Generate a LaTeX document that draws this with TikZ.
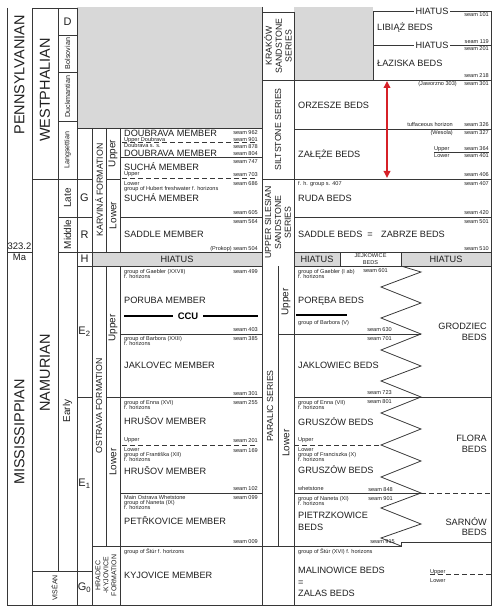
\documentclass[tikz,border=0pt]{standalone}
\usepackage{fontspec}
\setmainfont{Liberation Sans}
\usetikzlibrary{arrows.meta}
\definecolor{grayfill}{RGB}{216,216,216}
\definecolor{linec}{RGB}{55,55,55}
\definecolor{txt}{RGB}{30,30,30}
\definecolor{redarr}{RGB}{214,32,39}
\newcommand\fsm{\fontsize{5.6}{6.2}\selectfont}
\newcommand\fbg{\fontsize{9.2}{10}\selectfont}
\newcommand\fhuge{\fontsize{14.5}{16}\selectfont}
\newcommand\fmid{\fontsize{10}{11}\selectfont}
\newcommand\fser{\fontsize{8.8}{10}\selectfont}
\newcommand\ftiny{\fontsize{7.2}{8}\selectfont}
\tikzset{
 ln/.style={draw=linec, line width=0.8bp},
 dsh/.style={draw=linec, line width=0.8bp, dash pattern=on 5bp off 3bp},
 sL/.style={font=\fsm, text=txt, inner sep=0pt, anchor=base west, yshift=-2bp},
 sR/.style={font=\fsm, text=txt, inner sep=0pt, anchor=base east, yshift=-2bp},
 sC/.style={font=\fsm, text=txt, inner sep=0pt, anchor=base, yshift=-2bp},
 bL/.style={font=\fbg, text=txt, inner sep=0pt, anchor=base west, yshift=-3.3bp},
 bR/.style={font=\fbg, text=txt, inner sep=0pt, anchor=base east, yshift=-3.3bp},
 bC/.style={font=\fbg, text=txt, inner sep=0pt, anchor=base, yshift=-3.3bp},
 rt/.style={rotate=90, text=txt, inner sep=0pt, anchor=center, align=center},
 lt/.style={font=\fontsize{11}{12}\selectfont, text=txt, inner sep=0pt, anchor=center},
}
\begin{document}
\begin{tikzpicture}[x=1bp, y=-1bp]
\useasboundingbox (0,0) rectangle (500,611);
% gray fills
\fill[grayfill] (77,7) rectangle (262,128);
\fill[grayfill] (294,7) rectangle (373,80);
\fill[grayfill] (92,252) rectangle (262,266);
\fill[grayfill] (294,252) rectangle (340,266);
\fill[grayfill] (401,252) rectangle (491,266);
\fill[white] (262,12) rectangle (294,80);
% frame and grid
\draw[ln]
 (7,8) -- (7,605) -- (491,605) -- (491,11)
 (32,8) -- (32,605)
 (32,8) -- (77,8)
 (58,8) -- (58,571)
 (77,8) -- (77,605)
 (58,35) -- (77,35)
 (58,72) -- (77,72)
 (58,121) -- (77,121)
 (92,128) -- (92,605)
 (106,128) -- (106,252) (106,266) -- (106,546)
 (120,128) -- (120,252) (120,266) -- (120,605)
 (262,7) -- (262,605)
 (278,266) -- (278,546)
 (294,12) -- (294,605)
 (262,12) -- (294,12)
 (373,11) -- (373,80)
 (373,11) -- (491,11)
 (373,45) -- (491,45)
 (262,80) -- (491,80)
 (77,128) -- (262,128)
 (294,129) -- (491,129)
 (120,157) -- (262,157)
 (32,179) -- (92,179) (106,179) -- (120,179)
 (262,179) -- (491,179)
 (58,217) -- (92,217) (120,217) -- (262,217) (294,217) -- (491,217)
 (7,252) -- (32,252) (58,252) -- (262,252) (294,252) -- (491,252)
 (77,266) -- (262,266) (294,266) -- (491,266)
 (340,252) -- (340,266) (401,252) -- (401,266)
 (120,334) -- (262,334) (278,334) -- (421,334)
 (77,397) -- (92,397) (106,397) -- (262,397) (294,397) -- (491,397)
 (120,493) -- (262,493) (294,493) -- (421,493)
 (92,546) -- (401,546) -- (401,542) -- (491,542)
 (32,571) -- (92,571)
 (434,152) -- (489,152);
% zigzag
\draw[ln] (401,266) -- (421,272) -- (381,287) -- (421,303) -- (381,318) -- (421,334)
 -- (381,350) -- (421,366) -- (381,381) -- (421,397) -- (381,413) -- (421,429)
 -- (381,445) -- (421,461) -- (381,477) -- (421,493) -- (381,508) -- (421,524)
 -- (381,538) -- (401,546);
% dashed
\draw[dsh] (122,142.5) -- (257,142.5);
\draw[dsh] (122,178) -- (258,178);
\draw[dsh] (122,445) -- (258,445);
\draw[dsh] (294,445) -- (381,445);
\draw[dsh] (421,493) -- (491,493);
\draw[dsh] (430,574) -- (491,574);
% CCU thick lines
\draw[line width=2.6bp, draw=black] (124,316) -- (173,316) (203,316) -- (258,316);
\draw[line width=2.6bp, draw=black] (296,315) -- (347,315);
\node[font=\bfseries\fontsize{9.5}{10}\selectfont, text=black, inner sep=0pt] (ccu) at (188,316) {CCU};
% red arrow
\coordinate (arT) at (387,81);
\coordinate (arB) at (387,178);
\draw[draw=redarr, line width=1.8bp, {Triangle[length=7bp,width=6.5bp]}-{Triangle[length=7bp,width=6.5bp]}] (arT) -- (arB);

% ---- left columns
\node[rt, font=\fhuge] (penn) at (19.5,75) {PENNSYLVANIAN};
\node[font=\fontsize{9.5}{10}\selectfont, text=txt, inner sep=0pt] (age) at (19.5,246.5) {323.2};
\node[font=\fontsize{9.5}{10}\selectfont, text=txt, inner sep=0pt] (ma) at (19.5,257) {Ma};
\node[rt, font=\fhuge] (miss) at (19.5,432) {MISSISSIPPIAN};
\node[rt, font=\fhuge] (west) at (45,90) {WESTPHALIAN};
\node[rt, font=\fhuge] (namu) at (45,373) {NAMURIAN};
\node[rt, font=\fontsize{7}{8}\selectfont] (vise) at (54.5,588) {VISÉAN};
\node[lt] (dD) at (67.5,22) {D};
\node[rt, font=\ftiny] (bols) at (67.5,53.5) {Bolsovian};
\node[rt, font=\ftiny] (duck) at (67.5,96.5) {Duckmantian};
\node[rt, font=\ftiny] (lang) at (67.5,150) {Langsettian};
\node[rt, font=\fmid] (late) at (67.5,198) {Late};
\node[rt, font=\fmid] (midd) at (67.5,234.5) {Middle};
\node[rt, font=\fmid] (earl) at (67.5,411) {Early};
\node[lt] (gG) at (84.5,198) {G};
\node[lt] (gR) at (84.5,234.5) {R};
\node[lt] (gH) at (84.5,259) {H};
\node[lt] (gE2) at (84.5,332) {E\textsubscript{2}};
\node[lt] (gE1) at (84.5,484) {E\textsubscript{1}};
\node[lt] (gG0) at (84.5,588) {G\textsubscript{0}};
\node[rt, font=\fser] (karv) at (99,190) {KARVINÁ FORMATION};
\node[rt, font=\fmid] (kup) at (113,153.5) {Upper};
\node[rt, font=\fmid] (klo) at (113,215.5) {Lower};
\node[rt, font=\fser] (ostr) at (99,406) {OSTRAVA FORMATION};
\node[rt, font=\fmid] (oup) at (113,328) {Upper};
\node[rt, font=\fmid] (olo) at (113,462) {Lower};
\node[rt, font=\fontsize{7}{8}\selectfont] (hrad) at (106,575.5) {HRADEC\\-KYJOVICE\\FORMATION};

% ---- Karvina members
\node[bL] (k1) at (124,133) {DOUBRAVA MEMBER};
\node[sR] (k2) at (258,133) {seam 962};
\node[sL] (k3) at (124,140) {Upper Doubrava};
\node[sR] (k4) at (258,139.5) {seam 901};
\node[sL, text depth=0pt] (k5) at (124,146) {Doubrava s. s.};
\node[sR] (k6) at (258,147) {seam 878};
\node[bL, text height=6.7bp, text depth=0pt] (k7) at (124,153) {DOUBRAVA MEMBER};
\node[sR] (k8) at (258,153.5) {seam 804};
\node[bL] (k9) at (124,167.5) {SUCHÁ MEMBER};
\node[sR] (k10) at (258,162) {seam 747};
\node[sL] (k11) at (124,174) {Upper};
\node[sR] (k12) at (258,175) {seam 703};
\node[sL] (k13) at (124,183) {Lower};
\node[sR] (k14) at (258,183.5) {seam 686};
\node[sL] (k15) at (124,188) {group of Hubert freshwater f. horizons};
\node[bL] (k16) at (124,198) {SUCHÁ MEMBER};
\node[sR] (k17) at (258,212) {seam 605};
\node[sR] (k18) at (258,221) {seam 564};
\node[bL] (k19) at (124,234) {SADDLE MEMBER};
\node[sR] (k20) at (258,248) {(Prokop) seam 504};
\node[bC] (hi1) at (177,259) {HIATUS};

% ---- Ostrava members
\node[sL] (o1) at (124,271) {group of Gaebler (XXVII)};
\node[sL] (o2) at (124,276.5) {f. horizons};
\node[sR] (o3) at (258,271) {seam 499};
\node[bL] (o4) at (124,300) {PORUBA MEMBER};
\node[sR] (o5) at (258,329) {seam 403};
\node[sL] (o6) at (124,338) {group of Barbora (XXII)};
\node[sL] (o7) at (124,343) {f. horizons};
\node[sR] (o8) at (258,338) {seam 385};
\node[bL] (o9) at (124,365) {JAKLOVEC MEMBER};
\node[sR] (o10) at (258,393) {seam 301};
\node[sL] (o11) at (124,402) {group of Enna (XVI)};
\node[sL] (o12) at (124,407) {f. horizons};
\node[sR] (o13) at (258,402) {seam 255};
\node[bL] (o14) at (124,421) {HRUŠOV MEMBER};
\node[sL] (o15) at (124,439) {Upper};
\node[sR] (o16) at (258,440) {seam 201};
\node[sL] (o17) at (124,449) {Lower};
\node[sL] (o18) at (124,454) {group of Františka (XII)};
\node[sL] (o19) at (124,459) {f. horizons};
\node[sR] (o20) at (258,450) {seam 169};
\node[bL] (o21) at (124,471) {HRUŠOV MEMBER};
\node[sR] (o22) at (258,488) {seam 102};
\node[sL] (o23) at (124,497) {Main Ostrava Whetstone};
\node[sL] (o24) at (124,502) {group of Naneta (IX)};
\node[sL] (o25) at (124,507) {f. horizons};
\node[sR] (o26) at (258,497) {seam 099};
\node[bL] (o27) at (124,521) {PETŘKOVICE MEMBER};
\node[sR] (o28) at (258,541) {seam 009};
\node[sL] (o29) at (124,551) {group of Štúr f. horizons};
\node[bL] (o30) at (124,575) {KYJOVICE MEMBER};

% ---- series column
\node[rt, font=\fser] (krak) at (278,46) {KRAKÓW\\SANDSTONE\\SERIES};
\node[rt, font=\fser] (silt) at (278,129.5) {SILTSTONE SERIES};
\node[rt, font=\fser] (usss) at (278,222.5) {UPPER SILESIAN\\SANDSTONE\\SERIES};
\node[rt, font=\fser] (para) at (270,406) {PARALIC SERIES};
\node[rt, font=\fmid] (pup) at (286,302) {Upper};
\node[rt, font=\fmid] (plo) at (286,443) {Lower};

% ---- upper right
\node[bC, fill=white, inner xsep=2bp] (hi2) at (432,11) {HIATUS};
\node[sR] (r1) at (489,15) {seam 101};
\node[bL] (r2) at (377,27) {LIBIĄŻ BEDS};
\node[bC, fill=white, inner xsep=2bp] (hi3) at (432,45) {HIATUS};
\node[sR] (r3) at (489,41.5) {seam 119};
\node[sR] (r4) at (489,49) {seam 201};
\node[bL] (r5) at (377,63) {ŁAZISKA BEDS};
\node[sR] (r6) at (489,76) {seam 218};
\node[sR] (r7) at (457,84) {(Jaworzno 303)};
\node[sR] (r8) at (489,84) {seam 301};
\node[bL] (r9) at (298,105) {ORZESZE BEDS};
\node[sR] (r10) at (453,125) {tuffaceous horizon};
\node[sR] (r11) at (489,125) {seam 326};
\node[sR] (r12) at (453,133) {(Wesola)};
\node[sR] (r13) at (489,133) {seam 327};
\node[bL] (r14) at (298,154) {ZAŁĘŻE BEDS};
\node[sL] (r15) at (434,149) {Upper};
\node[sR] (r16) at (489,149) {seam 364};
\node[sL] (r17) at (434,155.5) {Lower};
\node[sR] (r18) at (489,156) {seam 401};
\node[sR] (r19) at (489,175) {seam 406};
\node[sL] (r20) at (298,183) {f. h. group s. 407};
\node[sR] (r21) at (489,183) {seam 407};
\node[bL] (r22) at (298,198) {RUDA BEDS};
\node[sR] (r23) at (489,212) {seam 420};
\node[sR] (r24) at (489,221) {seam 501};
\node[bL] (r25) at (298,234) {SADDLE BEDS};
\node[bC] (r26) at (370,234) {=};
\node[bL] (r27) at (381,234) {ZABRZE BEDS};
\node[sR] (r28) at (489,248) {seam 510};
\node[bC] (hi4) at (317,259) {HIATUS};
\node[font=\fsm, text=txt, inner sep=0pt, align=center] (jejk) at (370.5,259) {JEJKOWICE\\BEDS};
\node[bC] (hi5) at (446,259) {HIATUS};

% ---- paralic right
\node[sL] (p1) at (298,271) {group of Gaebler (I ab)};
\node[sL] (p2) at (298,276.5) {f. horizons};
\node[sR] (p3) at (388,270.5) {seam 601};
\node[bL] (p4) at (298,300) {PORĘBA BEDS};
\node[sL] (p5) at (298,322) {group of Barbora (V)};
\node[sR] (p6) at (392,329) {seam 630};
\node[sR] (p7) at (392,338.5) {seam 701};
\node[bL] (p8) at (298,365) {JAKLOWIEC BEDS};
\node[sR] (p9) at (392,392) {seam 723};
\node[sR] (p10) at (392,401.5) {seam 801};
\node[sL] (p11) at (298,402) {group of Enna (VII)};
\node[sL] (p12) at (298,407) {f. horizons};
\node[bL] (p13) at (298,422) {GRUSZÓW BEDS};
\node[sL] (p14) at (298,439) {Upper};
\node[sL] (p15) at (298,449) {Lower};
\node[sL] (p16) at (298,454) {group of Franciszka (X)};
\node[sL] (p17) at (298,459) {f. horizons};
\node[bL] (p18) at (298,470) {GRUSZÓW BEDS};
\node[sL] (p19) at (298,488) {whetstone};
\node[sR] (p20) at (393,489) {seam 848};
\node[sL] (p21) at (298,498) {group of Naneta (XI)};
\node[sL] (p22) at (298,503) {f. horizons};
\node[sR] (p23) at (393,498) {seam 901};
\node[bL] (p24) at (298,515) {PIETRZKOWICE};
\node[bL] (p25) at (298,527) {BEDS};
\node[sR] (p26) at (395,541) {seam 915};
\node[sL] (p27) at (298,551) {group of Štúr (XVI) f. horizons};
\node[bL] (p28) at (298,570) {MALINOWICE BEDS};
\node[bL] (p29) at (298,582) {=};
\node[bL] (p30) at (298,593) {ZALAS BEDS};
\node[sL] (p31) at (430,571) {Upper};
\node[sL] (p32) at (430,580) {Lower};
\node[bR] (p33) at (487,326) {GRODZIEC};
\node[bR] (p34) at (487,337) {BEDS};
\node[bR] (p35) at (487,438) {FLORA};
\node[bR] (p36) at (487,449) {BEDS};
\node[bR] (p37) at (487,522) {SARNÓW};
\node[bR] (p38) at (487,532) {BEDS};
\end{tikzpicture}
\end{document}
